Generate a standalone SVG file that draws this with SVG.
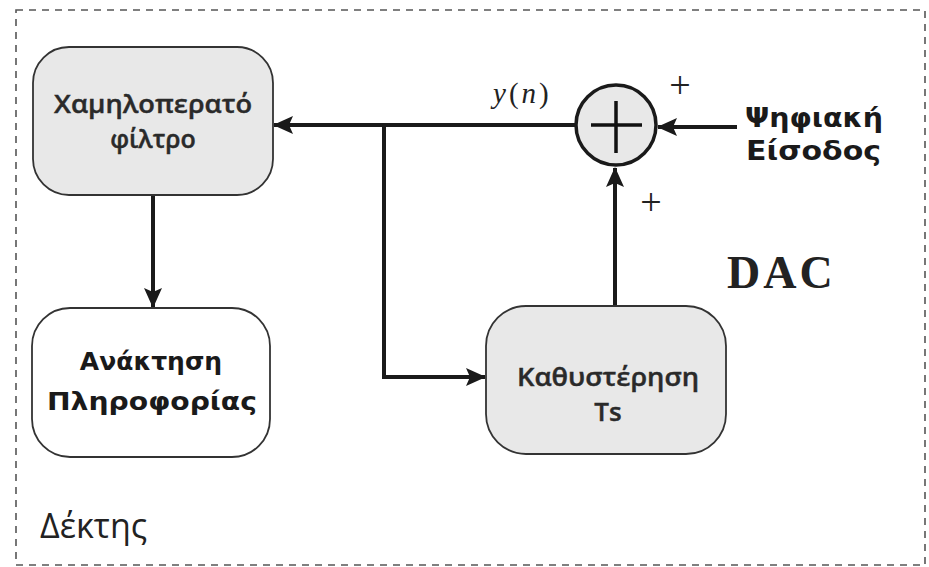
<svg xmlns="http://www.w3.org/2000/svg" width="929" height="567" viewBox="0 0 929 567">
  <style>
    .frame { fill: none; stroke: #555; stroke-width: 1.6; stroke-dasharray: 7 6; }
    .box { fill: #e8e8e8; stroke: #333; stroke-width: 1.8; }
    .box-white { fill: #ffffff; stroke: #333; stroke-width: 1.8; }
    .wire { fill: none; stroke: #1a1a1a; stroke-width: 4; }
    .label { font-family: "Open Sans", "DejaVu Sans", sans-serif; font-weight: 600; fill: #2a2a2a; stroke: #2a2a2a; stroke-width: 0.4; text-anchor: middle; }
    .bold { font-family: "DejaVu Sans", "Liberation Sans", sans-serif; font-weight: bold; fill: #1a1a1a; }
    .serif { font-family: "Liberation Serif", "DejaVu Serif", serif; fill: #222; }
  </style>
  <defs>
    <marker id="arrow" markerUnits="userSpaceOnUse" markerWidth="20" markerHeight="20" viewBox="0 0 20 20" refX="19" refY="10" orient="auto">
      <path d="M0,1 L20,10 L0,19 L4,10 z" fill="#1a1a1a"/>
    </marker>
  </defs>

  <rect width="929" height="567" fill="#ffffff"/>

  <!-- receiver boundary -->
  <rect class="frame" x="16" y="10" width="909" height="555"/>
  <text x="40" y="538" font-family="Open Sans, Liberation Sans, sans-serif" font-size="34" fill="#222">Δέκτης</text>

  <!-- connectors -->
  <g id="connectors">
    <line class="wire" x1="575" y1="125" x2="274" y2="125" marker-end="url(#arrow)"/>
    <polyline class="wire" points="384,125 384,377 485,377" marker-end="url(#arrow)"/>
    <line class="wire" x1="615" y1="306" x2="615" y2="168" marker-end="url(#arrow)"/>
    <line class="wire" x1="737" y1="127" x2="658" y2="127" marker-end="url(#arrow)"/>
    <line class="wire" x1="153" y1="195" x2="153" y2="307" marker-end="url(#arrow)"/>
  </g>

  <!-- low-pass filter -->
  <g id="lowpass">
    <rect class="box" x="33" y="47" width="240" height="148" rx="36"/>
    <text class="label" x="153" y="113" font-size="25" textLength="198" lengthAdjust="spacingAndGlyphs">Χαμηλοπερατό</text>
    <text class="label" x="153" y="148" font-size="25">φίλτρο</text>
  </g>

  <!-- information recovery -->
  <g id="recovery">
    <rect class="box-white" x="32" y="308" width="238" height="149" rx="38"/>
    <text class="bold" x="151" y="370" font-size="25" text-anchor="middle">Ανάκτηση</text>
    <text class="bold" x="152" y="410" font-size="25" text-anchor="middle" textLength="210" lengthAdjust="spacingAndGlyphs">Πληροφορίας</text>
  </g>

  <!-- delay element -->
  <g id="delay">
    <rect class="box" x="486" y="306" width="240" height="148" rx="40"/>
    <text class="label" x="608" y="386" font-size="25" textLength="182" lengthAdjust="spacingAndGlyphs">Καθυστέρηση</text>
    <text class="label" x="608" y="421" font-size="26">Ts</text>
  </g>

  <!-- summing junction -->
  <g id="adder">
    <circle cx="616" cy="125" r="40" fill="#e8e8e8" stroke="#1a1a1a" stroke-width="3.5"/>
    <line x1="591" y1="125" x2="642" y2="125" stroke="#111" stroke-width="3.5"/>
    <line x1="616" y1="101" x2="616" y2="153" stroke="#111" stroke-width="3.5"/>
    <text class="serif" x="680" y="98" font-size="38" text-anchor="middle">+</text>
    <text class="serif" x="651" y="215" font-size="38" text-anchor="middle">+</text>
  </g>

  <!-- output signal label -->
  <g id="yn">
    <text class="serif" x="493" y="103" font-size="29" font-style="italic"><tspan>y</tspan><tspan dx="3" font-style="normal">(</tspan><tspan dx="3">n</tspan><tspan dx="3" font-style="normal">)</tspan></text>
  </g>

  <!-- digital input -->
  <g id="input">
    <text class="bold" x="745" y="127" font-size="27" textLength="138" lengthAdjust="spacingAndGlyphs">Ψηφιακή</text>
    <text class="bold" x="746" y="160" font-size="27" textLength="135" lengthAdjust="spacingAndGlyphs">Είσοδος</text>
  </g>

  <!-- block title -->
  <text class="serif" x="727" y="288" font-size="46" font-weight="bold" letter-spacing="3" fill="#1a1a1a">DAC</text>
</svg>
